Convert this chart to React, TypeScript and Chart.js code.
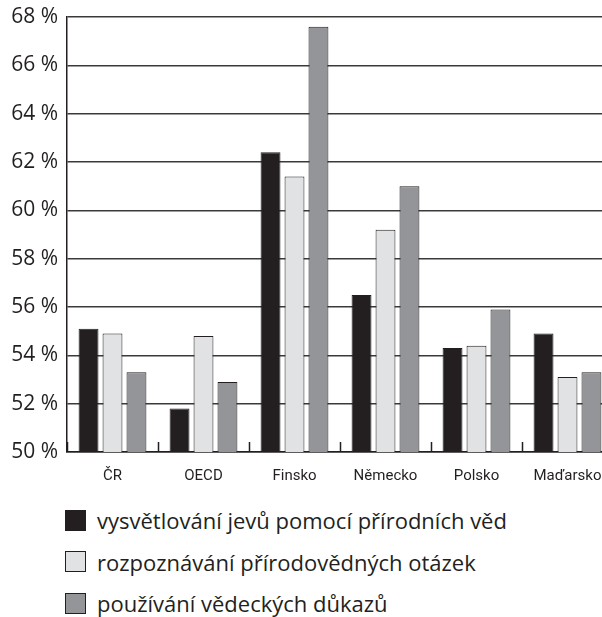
import React, { useEffect, useRef } from "react";
import { Chart, registerables } from "chart.js";

Chart.register(...registerables);

const categories = ["ČR", "OECD", "Finsko", "Německo", "Polsko", "Maďarsko"];
const seriesNames = [
  "vysvětlování jevů pomocí přírodních věd",
  "rozpoznávání přírodovědných otázek",
  "používání vědeckých důkazů",
];
const explaining = [55.1, 51.8, 62.4, 56.5, 54.3, 54.9];
const identifying = [54.9, 54.8, 61.4, 59.2, 54.4, 53.1];
const evidence = [53.3, 52.9, 67.6, 61.0, 55.9, 53.3];
const yTicks = [50, 52, 54, 56, 58, 60, 62, 64, 66, 68];

const colors = ["#231f20", "#e1e2e4", "#939598"];
const borderColor = "#231f20";

const innerTicks = {
  id: "innerTicks",
  afterDraw(chart: any) {
    const x = chart.scales.x;
    const ctx = chart.ctx;
    const bottom = chart.chartArea.bottom;
    ctx.save();
    ctx.strokeStyle = "#231f20";
    ctx.lineWidth = 1.5;
    ctx.beginPath();
    for (let i = 0; i <= categories.length; i++) {
      const px = Math.round(x.getPixelForValue(i - 0.5)) + 0.5;
      ctx.moveTo(px, bottom);
      ctx.lineTo(px, bottom - 10);
    }
    ctx.stroke();
    ctx.restore();
  },
};

export default function App() {
  const ref = useRef<HTMLCanvasElement | null>(null);

  useEffect(() => {
    if (!ref.current) return;
    const values = [explaining, identifying, evidence];
    const chart = new Chart(ref.current, {
      type: "bar",
      data: {
        labels: categories,
        datasets: seriesNames.map((name, i) => ({
          label: name,
          data: values[i],
          backgroundColor: colors[i],
          borderColor: borderColor,
          borderWidth: 1,
          borderSkipped: "bottom",
          categoryPercentage: 0.79,
          barPercentage: 0.83,
        })),
      },
      options: {
        responsive: false,
        animation: false,
        devicePixelRatio: 1,
        layout: { padding: { top: 17, right: 7, left: 0, bottom: 0 } },
        plugins: { legend: { display: false }, tooltip: { enabled: false } },
        scales: {
          x: {
            grid: { display: false },
            border: { display: true, color: "#231f20", width: 1.5 },
            ticks: {
              color: "#231f20",
              padding: 7,
              font: { family: "'Liberation Sans Narrow', 'Roboto', sans-serif", size: 15 },
            },
            afterFit: (s: any) => {
              s.height = 38;
              s.paddingLeft = 0;
              s.paddingRight = 0;
            },
          },
          y: {
            min: 50,
            max: 68,
            afterBuildTicks: (s: any) => {
              s.ticks = yTicks.map((v) => ({ value: v }));
            },
            grid: { color: "#3a3a3a", lineWidth: 1.5, drawTicks: false },
            border: { display: true, color: "#231f20", width: 1.5 },
            ticks: {
              color: "#231f20",
              padding: 9,
              font: { family: "'Open Sans', sans-serif", size: 21 },
              callback: (v: any) => `${v} %`,
            },
            afterFit: (s: any) => {
              s.width = 67;
              s.paddingTop = 0;
              s.paddingBottom = 0;
            },
          },
        },
      },
      plugins: [innerTicks],
    });
    return () => chart.destroy();
  }, []);

  return (
    <div
      style={{
        position: "fixed",
        left: 0,
        top: 0,
        width: 602,
        height: 617,
        overflow: "hidden",
        background: "#fff",
      }}
    >
      <canvas ref={ref} width={620} height={490} style={{ display: "block" }} />
      {seriesNames.map((name, i) => (
        <div
          key={name}
          style={{
            position: "absolute",
            left: 65,
            top: 509 + i * 41.5,
            height: 22,
            display: "flex",
            alignItems: "center",
            fontFamily: "'Open Sans', sans-serif",
            fontSize: 22,
            color: "#231f20",
            whiteSpace: "nowrap",
          }}
        >
          <span
            style={{
              display: "inline-block",
              width: 21,
              height: 21,
              boxSizing: "border-box",
              background: colors[i],
              border: `1px solid ${borderColor}`,
              marginRight: 11,
            }}
          />
          {name}
        </div>
      ))}
    </div>
  );
}
